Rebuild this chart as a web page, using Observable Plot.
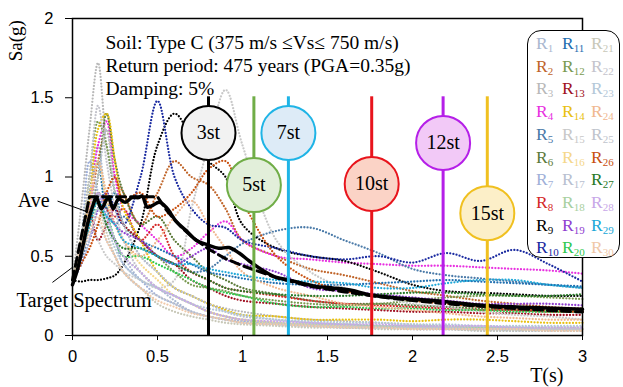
<!DOCTYPE html>
<html><head><meta charset="utf-8">
<script src="https://cdn.jsdelivr.net/npm/d3@7"></script>
<script src="https://cdn.jsdelivr.net/npm/@observablehq/plot@0.6"></script>
<style>
body{margin:0;background:#fff;}
#wrap{position:relative;width:623px;height:387px;overflow:hidden;}
#legend{position:absolute;left:527px;top:30px;width:91px;height:226px;border:1.5px solid #000;border-radius:14px;background:#fff;font-family:"Liberation Serif",serif;}
.item{position:absolute;font-size:17.5px;line-height:18px;white-space:nowrap;}
.item sub{font-size:11px;vertical-align:-3px;line-height:0;}
</style></head><body><div id="wrap"></div><script>
// Period grid for records (s)
const T = [0, 0.05, 0.1, 0.15, 0.2, 0.25, 0.3, 0.4, 0.5, 0.6, 0.7, 0.8, 0.9, 1.0, 1.2, 1.4, 1.6, 1.8, 2.0, 2.2, 2.4, 2.6, 2.8, 3.0];
// Record spectra Sa(g)
const r1  = [0.35,0.5,0.9,1.2,0.8,0.6,0.5,0.35,0.3,0.22,0.15,0.12,0.1,0.09,0.07,0.06,0.05,0.05,0.04,0.04,0.03,0.03,0.03,0.03];
const r2  = [0.35,0.6,0.8,1.1,1.3,1.0,0.9,0.7,0.9,1.1,1.0,0.95,0.8,0.6,0.5,0.42,0.38,0.33,0.28,0.25,0.22,0.2,0.18,0.17];
const r3  = [0.35,0.8,1.3,1.72,1.2,0.9,0.7,0.5,0.4,0.3,0.25,0.2,0.17,0.15,0.12,0.1,0.09,0.08,0.07,0.06,0.06,0.05,0.05,0.05];
const r4  = [0.35,0.5,0.8,1.2,1.35,1.0,0.8,0.7,0.6,0.5,0.55,0.65,0.72,0.6,0.5,0.48,0.46,0.45,0.44,0.44,0.43,0.42,0.41,0.39];
const r5  = [0.35,0.45,0.7,0.9,0.8,0.7,0.75,0.6,0.5,0.45,0.4,0.42,0.5,0.58,0.66,0.68,0.6,0.52,0.42,0.38,0.36,0.34,0.32,0.3];
const r6  = [0.35,0.55,0.75,1.0,1.4,1.1,0.9,0.7,0.75,0.6,0.5,0.4,0.35,0.3,0.26,0.22,0.2,0.2,0.19,0.18,0.17,0.16,0.15,0.15];
const r7  = [0.35,0.6,1.1,0.9,0.7,0.6,0.45,0.35,0.25,0.2,0.15,0.12,0.1,0.09,0.07,0.06,0.05,0.05,0.04,0.04,0.04,0.03,0.03,0.03];
const r8  = [0.35,0.5,0.7,0.9,0.8,0.75,0.8,0.6,0.7,0.5,0.4,0.35,0.3,0.28,0.25,0.22,0.2,0.19,0.18,0.17,0.16,0.16,0.15,0.15];
const r9  = [0.35,0.34,0.35,0.35,0.36,0.38,0.45,0.7,1.2,1.4,1.25,1.1,1.0,0.7,0.55,0.5,0.47,0.4,0.32,0.28,0.27,0.26,0.25,0.25];
const r10 = [0.35,0.45,0.6,0.8,0.9,0.8,0.7,1.0,1.48,1.0,0.8,0.7,0.68,0.6,0.55,0.5,0.48,0.5,0.46,0.52,0.47,0.54,0.45,0.34];
const r11 = [0.35,0.5,0.9,1.1,0.8,0.9,0.7,0.6,0.55,0.5,0.45,0.4,0.38,0.36,0.33,0.32,0.32,0.33,0.34,0.35,0.34,0.33,0.32,0.31];
const r12 = [0.35,0.6,1.0,1.35,1.2,0.9,0.7,0.6,0.5,0.4,0.32,0.3,0.28,0.25,0.22,0.2,0.19,0.2,0.22,0.24,0.25,0.25,0.24,0.23];
const r13 = [0.35,0.5,0.8,0.6,0.7,0.8,0.7,0.6,0.5,0.45,0.35,0.3,0.25,0.22,0.2,0.18,0.17,0.16,0.15,0.15,0.14,0.14,0.13,0.13];
const r14 = [0.35,0.55,0.85,1.3,1.4,1.1,0.8,0.6,0.4,0.3,0.25,0.2,0.16,0.13,0.12,0.1,0.1,0.1,0.09,0.1,0.1,0.09,0.08,0.08];
const r15 = [0.35,0.5,0.7,0.6,0.5,0.45,0.4,0.35,0.3,0.35,0.8,1.2,1.55,1.2,0.6,0.4,0.3,0.25,0.2,0.18,0.15,0.13,0.12,0.1];
const r16 = [0.35,0.6,0.9,1.1,0.85,0.7,0.6,0.45,0.35,0.25,0.2,0.15,0.12,0.1,0.08,0.07,0.06,0.06,0.05,0.05,0.05,0.04,0.04,0.04];
const r17 = [0.35,0.55,0.8,1.0,1.3,0.9,0.7,0.5,0.4,0.3,0.25,0.2,0.15,0.12,0.1,0.08,0.07,0.06,0.06,0.05,0.05,0.05,0.04,0.04];
const r18 = [0.35,0.5,0.7,0.9,0.75,0.6,0.5,0.4,0.3,0.25,0.2,0.15,0.12,0.1,0.08,0.07,0.07,0.06,0.06,0.06,0.05,0.05,0.05,0.05];
const r19 = [0.35,0.45,0.6,0.8,0.9,0.7,0.65,0.6,0.5,0.45,0.5,0.55,0.48,0.45,0.4,0.3,0.28,0.26,0.24,0.22,0.2,0.2,0.2,0.19];
const r20 = [0.35,0.5,0.7,0.8,0.75,0.6,0.5,0.5,0.45,0.4,0.35,0.3,0.27,0.25,0.2,0.18,0.18,0.17,0.17,0.16,0.16,0.15,0.15,0.15];
const r21 = [0.35,0.5,0.7,0.8,0.65,0.5,0.4,0.3,0.2,0.15,0.12,0.1,0.08,0.07,0.06,0.05,0.05,0.04,0.04,0.04,0.03,0.03,0.03,0.03];
const r22 = [0.35,0.6,1.0,1.45,1.1,0.8,0.6,0.4,0.3,0.25,0.2,0.15,0.12,0.1,0.08,0.07,0.06,0.05,0.05,0.05,0.04,0.04,0.04,0.04];
const r23 = [0.35,0.45,0.6,0.8,0.7,0.55,0.45,0.35,0.3,0.25,0.2,0.17,0.15,0.13,0.1,0.09,0.08,0.08,0.07,0.07,0.06,0.06,0.06,0.06];
const r24 = [0.35,0.55,0.8,1.1,0.9,0.7,0.6,0.5,0.6,0.75,0.85,0.7,0.55,0.4,0.3,0.25,0.2,0.18,0.16,0.14,0.12,0.11,0.1,0.1];
const r25 = [0.35,0.5,0.65,0.7,0.6,0.5,0.4,0.3,0.25,0.2,0.15,0.12,0.1,0.08,0.07,0.06,0.05,0.05,0.05,0.04,0.04,0.04,0.04,0.04];
const r26 = [0.35,0.45,0.55,0.7,0.9,1.0,0.85,0.9,0.75,0.8,0.9,1.05,1.1,0.85,0.5,0.35,0.28,0.25,0.22,0.2,0.18,0.17,0.16,0.15];
const r27 = [0.35,0.5,0.7,0.85,0.7,0.6,0.55,0.55,0.5,0.45,0.4,0.35,0.3,0.28,0.26,0.25,0.25,0.26,0.27,0.27,0.26,0.25,0.25,0.26];
const r28 = [0.35,0.5,0.75,0.9,0.75,0.6,0.5,0.4,0.3,0.25,0.2,0.15,0.12,0.1,0.09,0.08,0.07,0.07,0.06,0.06,0.06,0.05,0.05,0.05];
const r29 = [0.35,0.5,0.7,0.85,0.75,0.7,0.6,0.55,0.5,0.45,0.45,0.42,0.4,0.38,0.35,0.34,0.33,0.3,0.3,0.33,0.35,0.35,0.32,0.3];
const r30 = [0.35,0.5,0.65,0.75,0.6,0.5,0.4,0.3,0.22,0.18,0.14,0.12,0.1,0.08,0.07,0.06,0.05,0.05,0.04,0.04,0.04,0.04,0.03,0.03];
const recordNames = d3.range(1, 31).map(i => "R" + i);
const recordColors = ["#aab8d0","#c0652a","#b8b8b8","#e830e0","#4a7aa8","#5c7a3a","#a0b0d8","#d42828","#000000","#1a2aa0",
  "#1f6fb0","#7a9a50","#a01020","#e8c010","#c8c8c8","#f5d78a","#b8c0d0","#a8d0a0","#9040d0","#30c850",
  "#c8c8b8","#c4c4cc","#b4c8d8","#f0b890","#c0c4cc","#c85010","#287a28","#c8a8e8","#20a8d8","#f0c8a8"];
const recordValues = [r1,r2,r3,r4,r5,r6,r7,r8,r9,r10,r11,r12,r13,r14,r15,r16,r17,r18,r19,r20,r21,r22,r23,r24,r25,r26,r27,r28,r29,r30];

// Average spectrum
const aveT  = [0,0.03,0.06,0.09,0.12,0.14,0.17,0.21,0.24,0.27,0.31,0.35,0.39,0.41,0.44,0.47,0.51,0.55,0.61,0.67,0.73,0.8,0.86,0.92,0.98,1.04,1.12,1.19,1.27,1.35,1.43,1.53,1.64,1.75,1.93,2.18,2.42,2.71,3.0];
const aveSa = [0.32,0.42,0.56,0.71,0.82,0.87,0.8,0.87,0.8,0.86,0.84,0.87,0.87,0.88,0.81,0.82,0.84,0.81,0.72,0.66,0.6,0.57,0.55,0.555,0.52,0.47,0.41,0.37,0.35,0.33,0.31,0.3,0.285,0.255,0.235,0.215,0.19,0.177,0.165];
// Target spectrum
const tgtT  = [0,0.1,0.5,0.55,0.6,0.65,0.7,0.8,0.9,1.0,1.2,1.4,1.6,1.8,2.0,2.2,2.4,2.6,2.8,3.0];
const tgtSa = [0.35,0.875,0.875,0.795,0.73,0.673,0.625,0.545,0.485,0.44,0.365,0.31,0.275,0.245,0.22,0.2,0.185,0.17,0.158,0.148];

// Storey markers
const storeyLabels = ["3st","5st","7st","10st","12st","15st"];
const storeyT      = [0.8, 1.067, 1.27, 1.76, 2.18, 2.44];
const storeyBubble = [1.278, 0.949, 1.278, 0.956, 1.215, 0.772];
const storeyLine   = ["#000000","#70ad47","#1fb4e6","#e8141c","#b51fe8","#f0c020"];
const storeyFill   = ["#f2f2f2","#e2efda","#ddebf7","#fbd3c6","#f2c9f7","#fcefc8"];
const storeyTop = 1.506;

const xTicks = [0,0.5,1,1.5,2,2.5,3];
const yTicks = [0,0.5,1,1.5,2];
const noteLines = ["Soil: Type C (375 m/s \u2264Vs\u2264 750 m/s)", "Return period: 475 years (PGA=0.35g)", "Damping: 5%"];

const recRows = [];
recordValues.forEach((vals, i) => vals.forEach((v, j) => recRows.push({name: recordNames[i], color: recordColors[i], T: T[j], Sa: v})));
const aveRows = aveT.map((t, i) => ({T: t, Sa: aveSa[i]}));
const tgtRows = tgtT.map((t, i) => ({T: t, Sa: tgtSa[i]}));
const storeys = storeyLabels.map((l, i) => ({label: l, T: storeyT[i], cy: storeyBubble[i], line: storeyLine[i], fill: storeyFill[i]}));

const serif = "'Liberation Serif', 'Times New Roman', serif";
const sans = "'Liberation Sans', Arial, sans-serif";

const chart = Plot.plot({
  width: 623, height: 387,
  marginLeft: 72, marginRight: 41, marginTop: 18, marginBottom: 52,
  x: {domain: [0, 3]},
  y: {domain: [0, 2]},
  color: {type: "identity"},
  style: {background: "#fff", color: "#000", overflow: "visible"},
  marks: [
    Plot.line(recRows, {x: "T", y: "Sa", z: "name", stroke: "color", strokeWidth: 2.3, strokeDasharray: "0,3.2", strokeLinecap: "round", curve: "catmull-rom"}),
    Plot.line(tgtRows, {x: "T", y: "Sa", stroke: "#000", strokeWidth: 3, strokeDasharray: "9,5"}),
    Plot.line(aveRows, {x: "T", y: "Sa", stroke: "#000", strokeWidth: 3.5, curve: "catmull-rom"}),
    Plot.ruleX(storeys, {x: "T", y1: 0, y2: storeyTop, stroke: "line", strokeWidth: 3}),
    Plot.dot(storeys, {x: "T", y: "cy", r: 27, fill: "fill", stroke: "line", strokeWidth: 2}),
    Plot.text(storeys, {x: "T", y: "cy", text: "label", fontSize: 20, fontFamily: serif, fill: "#000"}),
    Plot.frame({stroke: "#000", strokeWidth: 1.5}),
    Plot.axisY({ticks: yTicks, tickFormat: d => String(d), tickSize: 7, tickPadding: 12, fontSize: 16.5, fontFamily: sans, label: null}),
    Plot.axisX({ticks: xTicks, tickFormat: d => String(d), tickSize: 5, tickPadding: 10, fontSize: 16.5, fontFamily: sans, label: null}),
    Plot.text([noteLines.join("\n")], {x: 0.194, y: 1.912, text: d => d, textAnchor: "start", lineAnchor: "top", lineHeight: 1.18, fontSize: 19.5, fontFamily: serif, fill: "#000"}),
    Plot.text(["Sa(g)"], {x: -0.335, y: 1.86, text: d => d, rotate: -90, fontSize: 19, fontFamily: serif, fill: "#000"}),
    Plot.text(["T(s)"], {x: 2.79, y: -0.253, text: d => d, fontSize: 20, fontFamily: serif, fill: "#000"}),
    Plot.text(["Ave"], {x: -0.135, y: 0.854, text: d => d, textAnchor: "end", fontSize: 20, fontFamily: serif, fill: "#000"}),
    Plot.link([0], {x1: -0.088, y1: 0.848, x2: 0.094, y2: 0.778, stroke: "#000", strokeWidth: 1}),
    Plot.text(["Target Spectrum"], {x: -0.33, y: 0.222, text: d => d, textAnchor: "start", fontSize: 20.5, fontFamily: serif, fill: "#000"}),
    Plot.link([0], {x1: -0.118, y1: 0.335, x2: 0.0, y2: 0.43, stroke: "#000", strokeWidth: 1})
  ]
});
const wrap = document.getElementById("wrap");
wrap.appendChild(chart);

// Legend
const legend = document.createElement("div");
legend.id = "legend";
const colLeft = [8, 34, 63];
recordNames.forEach((n, i) => {
  const col = Math.floor(i / 10), row = i % 10;
  const s = document.createElement("span");
  s.className = "item";
  s.style.left = colLeft[col] + "px";
  s.style.top = (3 + row * 22.7) + "px";
  s.style.color = recordColors[i];
  s.innerHTML = "R<sub>" + n.slice(1) + "</sub>";
  legend.appendChild(s);
});
wrap.appendChild(legend);
</script></body></html>
